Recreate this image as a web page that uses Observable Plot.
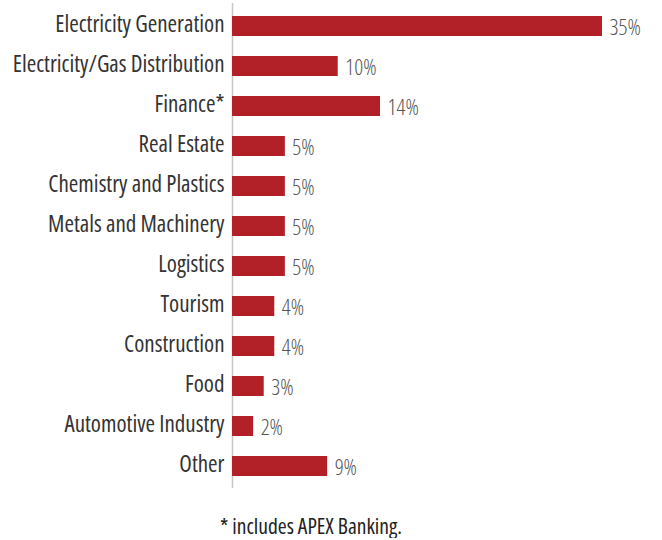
<!DOCTYPE html>
<html>
<head>
<meta charset="utf-8">
<script src="https://cdn.jsdelivr.net/npm/d3@7"></script>
<script src="https://cdn.jsdelivr.net/npm/@observablehq/plot@0.6"></script>
<style>
  body { margin: 0; background: #fff; }
  #chart { width: 662px; }
  #chart svg { font-stretch: 75%; }
  .note { font-family: "Open Sans", sans-serif; font-stretch: 75%; font-size: 21.5px; color: #222; text-align: center; margin-top: 14px; padding-right: 40px; line-height: 24px; }
</style>
</head>
<body>
<div id="chart"></div>
<script>
const categories = ["Electricity Generation", "Electricity/Gas Distribution", "Finance*", "Real Estate", "Chemistry and Plastics", "Metals and Machinery", "Logistics", "Tourism", "Construction", "Food", "Automotive Industry", "Other"];
const shares = [35, 10, 14, 5, 5, 5, 5, 4, 4, 3, 2, 9];
const footnote = "* includes APEX Banking.";

const data = categories.map((c, i) => ({category: c, value: shares[i]}));

const chart = Plot.plot({
  width: 662,
  height: 500,
  marginLeft: 232,
  marginRight: 60,
  marginTop: 3,
  marginBottom: 12,
  insetTop: 12,
  insetBottom: 11,
  style: {fontFamily: '"Open Sans", sans-serif', background: "#fff"},
  x: {domain: [0, d3.max(shares)], axis: null},
  y: {domain: categories, paddingInner: 0.5, paddingOuter: 0, label: null},
  marks: [
    Plot.ruleX([0], {stroke: "#c8c8c8", strokeWidth: 1.5}),
    Plot.barX(data, {x: "value", y: "category", fill: "#b22028"}),
    Plot.text(data, {x: "value", y: "category", text: d => d.value + "%", textAnchor: "start", dx: 7, dy: 1, fill: "#555", fontSize: 22, fontWeight: 300}),
    Plot.axisY({tickSize: 0, tickPadding: 8, dy: -2, fontSize: 23, fill: "#333", label: null})
  ]
});
document.getElementById("chart").appendChild(chart);
const note = document.createElement("div");
note.className = "note";
note.textContent = footnote;
document.body.appendChild(note);
</script>
</body>
</html>
